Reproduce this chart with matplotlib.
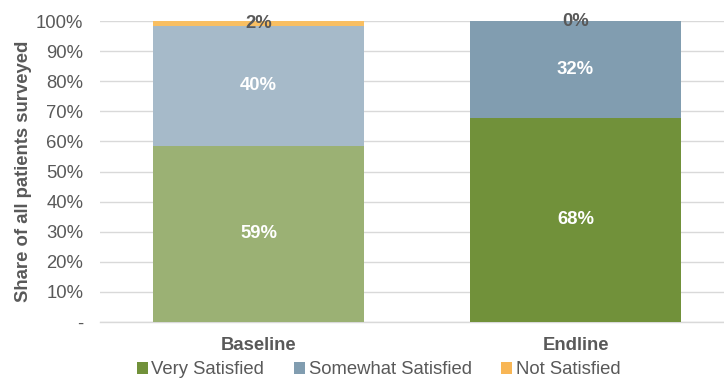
"""
Patient satisfaction, baseline vs endline (stacked 100% bars)
"""
import matplotlib
matplotlib.use('Agg')
import matplotlib.pyplot as plt
from matplotlib.patches import Patch
from matplotlib.ticker import FuncFormatter

plt.rcParams['font.family'] = ['Liberation Sans', 'DejaVu Sans']

categories = ['Baseline', 'Endline']
series = ['Very Satisfied', 'Somewhat Satisfied', 'Not Satisfied']
very_satisfied = [0.586, 0.678]
somewhat_satisfied = [0.398, 0.322]
not_satisfied = [0.016, 0.0]
values = [very_satisfied, somewhat_satisfied, not_satisfied]

# solid colours for endline, faded ones for baseline
solid = ['#71913A', '#819DB0', '#F8B655']
faded = ['#9BB174', '#A6BAC9', '#F9BF62']
label_colors = ['white', 'white', '#595959']

gray = '#595959'
fs = 13.3

fig = plt.figure(figsize=(7.24, 3.79), dpi=100)
ax = fig.add_axes([100 / 724, 57 / 379, 634 / 724, 301 / 379])

x = range(len(categories))
bottom = [0.0] * len(categories)
for s, vals in enumerate(values):
    colors = [faded[s], solid[s]]
    ax.bar(x, vals, width=0.666, bottom=bottom, color=colors, zorder=3)
    for i, v in enumerate(vals):
        ax.text(i, bottom[i] + v / 2, f'{round(v * 100):.0f}%',
                ha='center', va='center', fontsize=fs,
                color=label_colors[s], fontweight='bold', zorder=4)
    bottom = [b + v for b, v in zip(bottom, vals)]

ax.set_xlim(-0.5, 1.5)
ax.set_ylim(0, 1.0)
ax.set_yticks([i / 10 for i in range(11)])
ax.yaxis.set_major_formatter(
    FuncFormatter(lambda v, _: '-' if v == 0 else f'{v * 100:.0f}%'))
ax.set_xticks(list(x))
ax.set_xticklabels(categories, fontsize=fs, fontweight='bold', color=gray)
ax.tick_params(axis='y', labelsize=fs, labelcolor=gray, length=0, pad=12)
ax.tick_params(axis='x', length=0, pad=11)
ax.grid(axis='y', color='#D9D9D9', linewidth=1, zorder=0)
for side in ['top', 'right', 'left']:
    ax.spines[side].set_visible(False)
ax.spines['bottom'].set_color('#D9D9D9')
ax.spines['bottom'].set_linewidth(1)
ax.set_ylabel('Share of all patients surveyed', fontsize=fs,
              fontweight='bold', color=gray, labelpad=3)

handles = [Patch(facecolor=c) for c in solid]
fig.legend(handles, series, loc='center', bbox_to_anchor=(0.523, 0.024),
           ncol=3, frameon=False, fontsize=fs, labelcolor=gray,
           handlelength=0.6, handleheight=0.6, handletextpad=0.2,
           columnspacing=1.6)

fig.savefig('out.png', dpi=100)
